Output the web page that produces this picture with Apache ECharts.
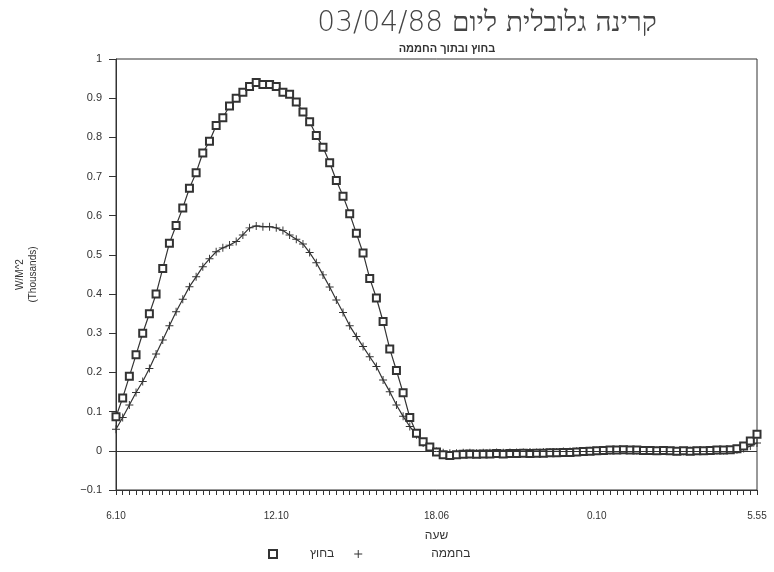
<!DOCTYPE html>
<html>
<head>
<meta charset="utf-8">
<title>קרינה גלובלית</title>
<script src="https://cdn.jsdelivr.net/npm/echarts@6/dist/echarts.min.js"></script>
<style>
  html, body { margin: 0; padding: 0; background: #fff; }
  #chart { width: 774px; height: 572px; }
</style>
</head>
<body>
<div id="chart"></div>
<script>
// קרינה גלובלית 03/04/88 - ערכים באלפי W/M^2, נקודה כל ~15 דקות
const tickLabels = ['6.10', '12.10', '18.06', '0.10', '5.55'];
const labelStep = 24;

// בחוץ (ריבועים)
const outside = [
  0.087, 0.135, 0.19, 0.245, 0.3, 0.35, 0.4, 0.465, 0.53, 0.575,
  0.62, 0.67, 0.71, 0.76, 0.79, 0.83, 0.85, 0.88, 0.9, 0.915,
  0.93, 0.94, 0.935, 0.935, 0.93, 0.915, 0.91, 0.89, 0.865, 0.84,
  0.805, 0.775, 0.735, 0.69, 0.65, 0.605, 0.555, 0.505, 0.44, 0.39,
  0.33, 0.26, 0.205, 0.148, 0.085, 0.045, 0.023, 0.01, -0.003, -0.01,
  -0.012, -0.01, -0.009, -0.008, -0.009, -0.008, -0.008, -0.007, -0.008, -0.007,
  -0.007, -0.006, -0.007, -0.006, -0.006, -0.005, -0.005, -0.004, -0.004, -0.003,
  -0.002, -0.001, 0.0, 0.001, 0.002, 0.002, 0.003, 0.002, 0.002, 0.001,
  0.001, 0.0, 0.001, 0.0, -0.001, 0.0, -0.001, 0.0, 0.0, 0.001,
  0.002, 0.002, 0.003, 0.005, 0.012, 0.025, 0.042
];

// בחממה (פלוסים)
const inside = [
  0.055, 0.085, 0.117, 0.149, 0.177, 0.21, 0.247, 0.283, 0.319, 0.355,
  0.387, 0.419, 0.444, 0.47, 0.49, 0.508, 0.518, 0.525, 0.534, 0.551,
  0.569, 0.574, 0.572, 0.572, 0.569, 0.562, 0.551, 0.54, 0.528, 0.506,
  0.48, 0.449, 0.418, 0.385, 0.353, 0.319, 0.292, 0.266, 0.24, 0.215,
  0.181, 0.151, 0.117, 0.088, 0.062, 0.041, 0.02, 0.008, -0.002, -0.005,
  -0.006, -0.006, -0.005, -0.005, -0.006, -0.005, -0.005, -0.004, -0.005, -0.004,
  -0.004, -0.004, -0.003, -0.004, -0.003, -0.003, -0.003, -0.002, -0.002, -0.001,
  -0.001, 0.0, 0.0, 0.001, 0.001, 0.002, 0.002, 0.002, 0.001, 0.001,
  0.001, 0.0, 0.0, 0.0, -0.001, -0.001, 0.0, 0.0, 0.0, 0.0,
  0.001, 0.001, 0.002, 0.003, 0.006, 0.012, 0.02
];

const categories = outside.map((_, i) => String(i));

const ink = '#333';
const plusIcon = 'path://M4.4,0H5.6V4.4H10V5.6H5.6V10H4.4V5.6H0V4.4H4.4Z';
const font = 'Liberation Sans, DejaVu Sans, sans-serif';

const chart = echarts.init(document.getElementById('chart'));
chart.setOption({
  backgroundColor: '#fff',
  animation: false,
  title: [
    {
      // RLE כדי שהתאריך יופיע משמאל
      text: '\u202Bקרינה גלובלית ליום 03/04/88\u202C',
      left: 482, top: 5, textAlign: 'center',
      textStyle: { fontFamily: 'DejaVu Sans', fontWeight: 200, fontSize: 28, color: '#444' }
    },
    {
      text: 'בחוץ ובתוך החממה',
      left: 442, top: 38, textAlign: 'center',
      textStyle: { fontFamily: font, fontWeight: 'bold', fontSize: 11, color: ink }
    }
  ],
  legend: {
    left: 263, top: 543,
    itemWidth: 8, itemHeight: 8, itemGap: 20,
    formatter: name => name === 'בחוץ' ? '{a|' + name + '}' : '{b|' + name + '}',
    textStyle: {
      fontFamily: font, fontSize: 12, color: ink,
      rich: {
        a: { fontFamily: font, fontSize: 12, color: ink, padding: [0, 0, 0, 28] },
        b: { fontFamily: font, fontSize: 12, color: ink, padding: [0, 0, 0, 64] }
      }
    },
    data: [
      { name: 'בחוץ', icon: 'emptyRect' },
      { name: 'בחממה', icon: plusIcon }
    ]
  },
  grid: {
    left: 116, right: 17, top: 59, bottom: 82,
    show: true, borderColor: ink, borderWidth: 1
  },
  xAxis: {
    type: 'category',
    data: categories,
    boundaryGap: false,
    name: 'שעה',
    nameLocation: 'middle',
    nameGap: 40,
    nameTextStyle: { fontFamily: font, fontSize: 12, color: ink },
    axisLine: { onZero: false, lineStyle: { color: ink } },
    axisTick: { interval: 0, length: 5, lineStyle: { color: ink } },
    axisLabel: {
      interval: 0, margin: 21,
      fontFamily: font, fontSize: 10, color: ink,
      formatter: (v, i) => i % labelStep === 0 ? tickLabels[i / labelStep] : ''
    },
    splitLine: { show: false }
  },
  yAxis: {
    type: 'value',
    min: -0.1, max: 1, interval: 0.1,
    name: 'W/M^2\n(Thousands)',
    nameLocation: 'middle',
    nameRotate: 90,
    nameGap: 76,
    nameTextStyle: { fontFamily: font, fontSize: 10, color: ink, lineHeight: 13 },
    axisLine: { show: true, lineStyle: { color: ink } },
    axisTick: { show: true, length: 7, lineStyle: { color: ink } },
    axisLabel: {
      margin: 14, fontFamily: font, fontSize: 11, color: ink,
      formatter: v => {
        const r = Math.round(v * 10) / 10;
        return r < 0 ? '\u2212' + Math.abs(r) : String(r);
      }
    },
    splitLine: { show: false }
  },
  series: [
    {
      name: 'בחוץ',
      type: 'line',
      data: outside,
      symbol: 'emptyRect',
      symbolSize: 7,
      lineStyle: { color: ink, width: 1.2 },
      itemStyle: { color: ink, borderWidth: 1.2 },
      markLine: {
        silent: true,
        symbol: ['none', 'none'],
        label: { show: false },
        lineStyle: { color: ink, width: 1, type: 'solid' },
        data: [{ yAxis: 0 }]
      },
      z: 3
    },
    {
      name: 'בחממה',
      type: 'line',
      data: inside,
      symbol: plusIcon,
      symbolSize: 8,
      lineStyle: { color: ink, width: 1.2 },
      itemStyle: { color: ink },
      z: 2
    }
  ]
});
</script>
</body>
</html>
